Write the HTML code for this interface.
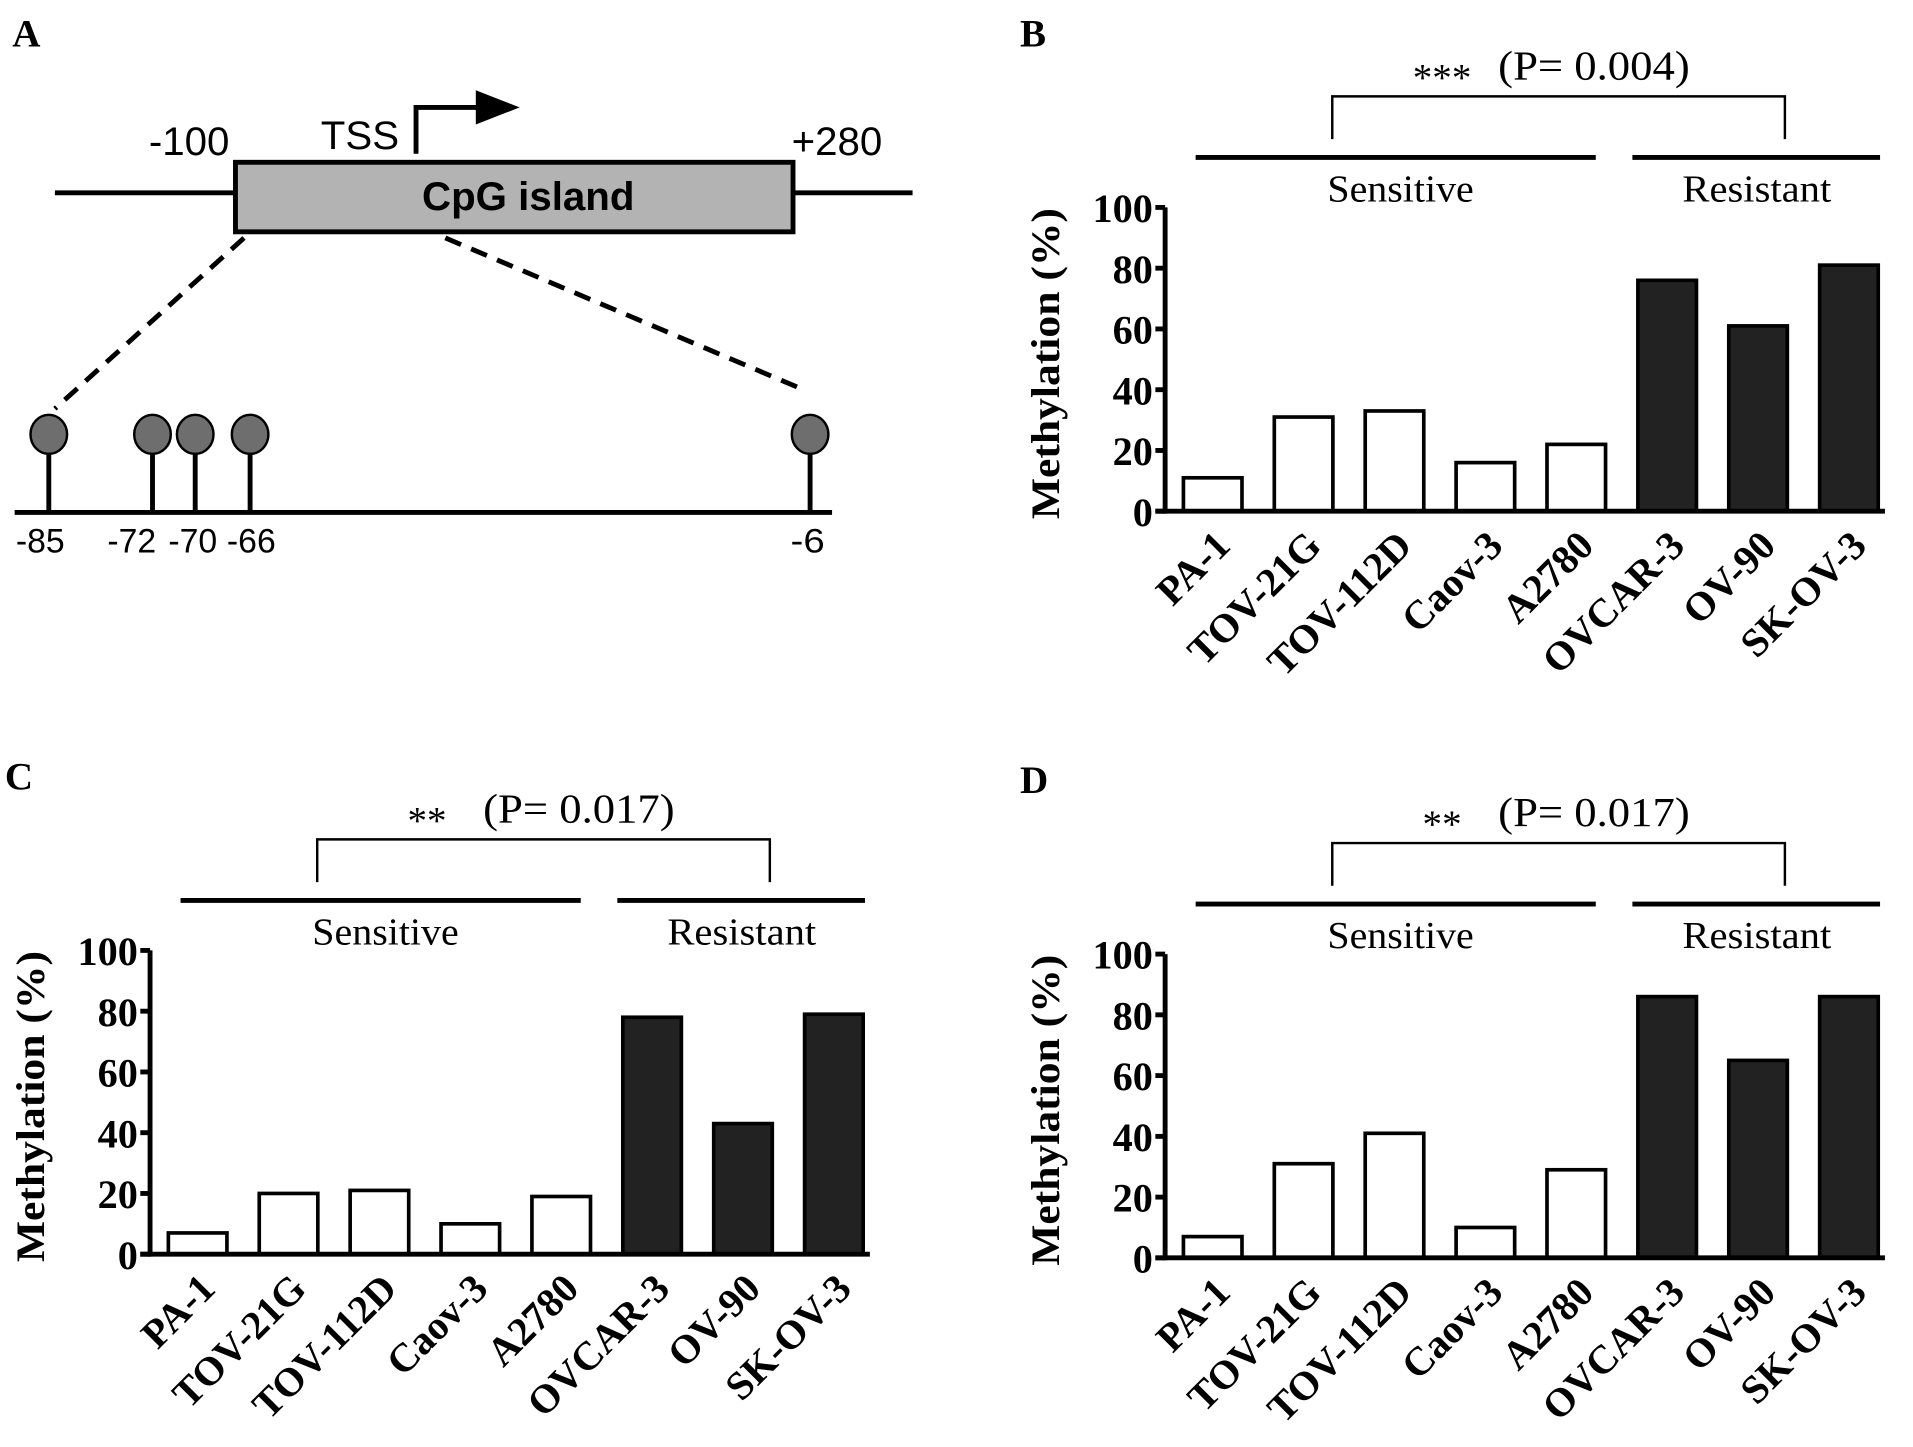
<!DOCTYPE html>
<html><head><meta charset="utf-8"><style>
html,body{margin:0;padding:0;background:#fff;}
svg{display:block;}
.ser{font-family:"Liberation Serif",serif;}
.san{font-family:"Liberation Sans",sans-serif;}
</style></head><body>
<svg id="fig" width="1913" height="1447" viewBox="0 0 1568 1186" xmlns="http://www.w3.org/2000/svg">
<g id="panelA">
<text x="10" y="38" class="ser" font-size="32" font-weight="bold">A</text>
<line x1="45" y1="158" x2="748" y2="158" stroke="#000" stroke-width="4"/>
<rect x="193" y="133" width="457" height="57" fill="#b3b3b3" stroke="#000" stroke-width="4"/>
<text x="433" y="172" class="san" font-size="33" font-weight="bold" text-anchor="middle">CpG island</text>
<text x="155" y="127" class="san" font-size="33" text-anchor="middle">-100</text>
<text x="686" y="127" class="san" font-size="33" text-anchor="middle">+280</text>
<text x="295" y="122" class="san" font-size="33" text-anchor="middle">TSS</text>
<polyline points="341,126 341,88 392,88" fill="none" stroke="#000" stroke-width="4"/>
<polygon points="390,74 426,88 390,102" fill="#000"/>
<line x1="200" y1="195" x2="45" y2="335" stroke="#000" stroke-width="4" stroke-dasharray="14,9"/>
<line x1="365" y1="195" x2="660" y2="320" stroke="#000" stroke-width="4" stroke-dasharray="14,9"/>
<line x1="12" y1="420" x2="682" y2="420" stroke="#000" stroke-width="4"/>
<g id="sites"></g>
</g>
<g id="panelB"></g><g id="panelC"></g><g id="panelD"></g>
</svg>
<script>
const NS="http://www.w3.org/2000/svg";
const siteLabels=["-85","-72","-70","-66","-6"];
const siteX=[40,125,160,205,664];
const cellLines=["PA-1","TOV-21G","TOV-112D","Caov-3","A2780","OVCAR-3","OV-90","SK-OV-3"];
const resistant=[false,false,false,false,false,true,true,true];
const valuesB=[11,31,33,16,22,76,61,81];
const valuesC=[7,20,21,10,19,78,43,79];
const valuesD=[7,31,41,10,29,86,65,86];
const yTicks=[0,20,40,60,80,100];
const starsB="***", starsC="**", starsD="**";
const pB="(P= 0.004)", pC="(P= 0.017)", pD="(P= 0.017)";

function mk(tag,attrs,parent,text){const e=document.createElementNS(NS,tag);for(const k in attrs)e.setAttribute(k,attrs[k]);if(text!==undefined)e.textContent=text;parent.appendChild(e);return e;}

const sites=document.getElementById('sites');
const siteLX=[33,108,158,206,662];
siteX.forEach((x,i)=>{
  const l=mk('line',{x1:x,y1:370,x2:x,y2:420,stroke:'#000','stroke-width':4},sites);
  
  
  const c=mk('ellipse',{cx:x,cy:356,rx:15,ry:16,fill:'#6e6e6e',stroke:'#000','stroke-width':2},sites);
  
  
  const t=mk('text',{x:siteLX[i],y:453,'font-size':28,'text-anchor':'middle','class':'san','textLength':(siteLabels[i].length==2?28:40),'lengthAdjust':'spacingAndGlyphs'},sites,siteLabels[i]);
  
  
});

function panel(id,letter,ox,oy,values,stars,pval){
  const g=document.getElementById(id);
  
  
  const axX=ox+955, y0=oy+419, h=249;
  const ys=v=>y0-v/100*h;
  const xs=i=>axX+39+i*74.5;
  const L=mk('text',{x:ox+836,y:oy+38,'font-size':32,'font-weight':'bold','class':'ser'},g,letter);
  
  
  const br=mk('polyline',{points:`${ox+1092},${oy+114} ${ox+1092},${oy+79} ${ox+1463},${oy+79} ${ox+1463},${oy+114}`,fill:'none',stroke:'#000','stroke-width':2},g);
  
  
  const st=mk('text',{x:ox+1182,y:oy+74,'font-size':32,'text-anchor':'middle','class':'ser'},g,stars);
  
  
  const pv=mk('text',{x:ox+1228,y:oy+65,'font-size':34,'class':'ser','textLength':157,'lengthAdjust':'spacingAndGlyphs'},g,pval);
  
  
  const s1=mk('line',{x1:ox+980,y1:oy+129,x2:ox+1308,y2:oy+129,stroke:'#000','stroke-width':4},g);
  
  
  const s2=mk('line',{x1:ox+1338,y1:oy+129,x2:ox+1541,y2:oy+129,stroke:'#000','stroke-width':4},g);
  
  
  const t1=mk('text',{x:ox+1148,y:oy+165,'font-size':31,'text-anchor':'middle','class':'ser','textLength':120,'lengthAdjust':'spacingAndGlyphs'},g,'Sensitive');
  
  
  const t2=mk('text',{x:ox+1440,y:oy+165,'font-size':31,'text-anchor':'middle','class':'ser','textLength':122,'lengthAdjust':'spacingAndGlyphs'},g,'Resistant');
  
  
  values.forEach((v,i)=>{
    const r=mk('rect',{x:xs(i)-24,y:ys(v),width:48,height:y0-ys(v),fill:resistant[i]?'#222':'#fff',stroke:'#000','stroke-width':3},g);
    
    
    const cx=xs(i)+16, cy=y0+30;
    const t=mk('text',{x:cx,y:cy,'font-size':33,'font-weight':'bold','text-anchor':'end','class':'ser',transform:`rotate(-45 ${cx} ${cy})`},g,cellLines[i]);
    
    
  });
  const ya=mk('line',{x1:axX,y1:ys(100),x2:axX,y2:y0+2,stroke:'#000','stroke-width':4},g);
  
  
  const xa=mk('line',{x1:axX-8,y1:y0,x2:ox+1545,y2:y0,stroke:'#000','stroke-width':4},g);
  
  
  yTicks.forEach(v=>{
    const tk=mk('line',{x1:axX-8,y1:ys(v),x2:axX,y2:ys(v),stroke:'#000','stroke-width':4},g);
    
    
    const tl=mk('text',{x:axX-10,y:ys(v)+12,'font-size':33,'font-weight':'bold','text-anchor':'end','class':'ser'},g,String(v));
    
    
  });
  const yl=mk('text',{x:ox+868,y:oy+298,'font-size':33,'font-weight':'bold','text-anchor':'middle','class':'ser','textLength':255,'lengthAdjust':'spacingAndGlyphs',transform:`rotate(-90 ${ox+868} ${oy+298})`},g,'Methylation (%)');
  
  
}
panel('panelB','B',0,0,valuesB,starsB,pB);
panel('panelC','C',-832,609,valuesC,starsC,pC);
panel('panelD','D',0,612,valuesD,starsD,pD);
</script>
</body></html>
